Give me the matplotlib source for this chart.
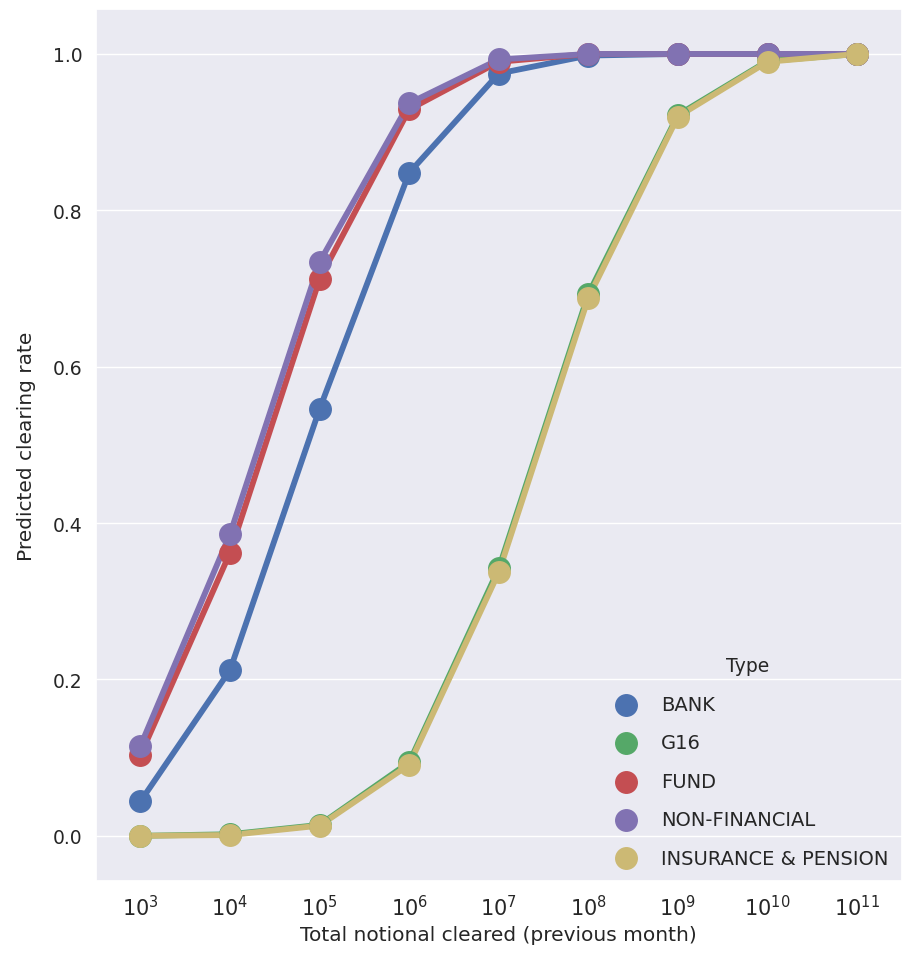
import matplotlib
matplotlib.use("Agg")
import matplotlib.pyplot as plt
import seaborn as sns
import numpy as np

sns.set_theme(style="darkgrid")
plt.rcParams['font.family'] = ['DejaVu Sans']

exponents = [3, 4, 5, 6, 7, 8, 9, 10, 11]
tick_labels = ["$10^{%d}$" % e for e in exponents]

types = ["BANK", "G16", "FUND", "NON-FINANCIAL", "INSURANCE & PENSION"]
colors = ["#4C72B0", "#55A868", "#C44E52", "#8172B2", "#CCB974"]

bank = [0.044, 0.212, 0.546, 0.848, 0.975, 0.998, 1.0, 1.0, 1.0]
g16 = [0.0, 0.002, 0.014, 0.094, 0.342, 0.693, 0.922, 0.991, 1.0]
fund = [0.103, 0.362, 0.712, 0.929, 0.990, 1.0, 1.0, 1.0, 1.0]
nonfin = [0.115, 0.386, 0.734, 0.937, 0.993, 1.0, 1.0, 1.0, 1.0]
insurance = [0.0, 0.001, 0.013, 0.091, 0.337, 0.688, 0.920, 0.990, 1.0]
series = [bank, g16, fund, nonfin, insurance]

fig, ax = plt.subplots(figsize=(9.11, 9.62), dpi=100)
x = np.arange(len(exponents))
handles = []
for name, vals, c in zip(types, series, colors):
    ax.plot(x, vals, color=c, lw=4.2, zorder=2)
    h = ax.scatter(x, vals, s=240, color=c, zorder=3, label=name)
    handles.append(h)

ax.set_xticks(x)
ax.set_xticklabels(tick_labels, fontsize=15)
ax.set_yticks([0, 0.2, 0.4, 0.6, 0.8, 1.0])
ax.set_yticklabels(["0.0", "0.2", "0.4", "0.6", "0.8", "1.0"], fontsize=13.5)
ax.set_xlim(-0.5, 8.5)
ax.set_ylim(-0.058, 1.058)
ax.grid(axis='x', visible=False)
ax.set_xlabel("Total notional cleared (previous month)", fontsize=14.5, labelpad=4)
ax.set_ylabel("Predicted clearing rate", fontsize=14.5, labelpad=12)
leg = ax.legend(handles=handles, title="Type", loc="lower right", frameon=False,
                fontsize=14, title_fontsize=13.5, labelspacing=1.0,
                borderaxespad=0.3)
fig.subplots_adjust(left=0.105, right=0.99, top=0.99, bottom=0.083)
fig.savefig("out.png")
